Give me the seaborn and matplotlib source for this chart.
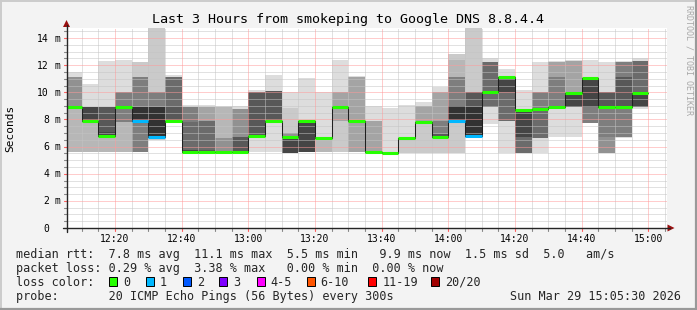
import numpy as np
import matplotlib
matplotlib.use("Agg")
import matplotlib.pyplot as plt
from matplotlib.patches import Rectangle, Polygon
import seaborn as sns

# ---------------- data ----------------
step_end = ["12:10", "12:15", "12:20", "12:25", "12:30", "12:35", "12:40", "12:45",
            "12:50", "12:55", "13:00", "13:05", "13:10", "13:15", "13:20", "13:25",
            "13:30", "13:35", "13:40", "13:45", "13:50", "13:55", "14:00", "14:05",
            "14:10", "14:15", "14:20", "14:25", "14:30", "14:35", "14:40", "14:45",
            "14:50", "14:55", "15:00"]

# received ping RTTs per 5-minute step (ms): (value, count)
ping_rtts = [
    [(5.6, 3), (8.9, 12), (11.1, 4), (11.5, 1)],
    [(5.6, 3), (7.9, 8), (8.9, 8), (10.6, 1)],
    [(5.6, 3), (6.8, 8), (7.1, 1), (8.9, 7), (12.3, 1)],
    [(5.6, 3), (7.8, 3), (8.9, 8), (10.0, 5), (12.4, 1)],
    [(5.6, 6), (7.9, 4), (8.9, 4), (11.1, 4), (12.2, 1)],
    [(6.5, 2), (6.7, 8), (8.9, 4), (10.0, 4), (14.8, 1)],
    [(7.9, 12), (8.9, 1), (11.1, 6), (11.3, 1)],
    [(5.6, 11), (5.75, 2), (7.8, 1), (8.9, 5), (9.1, 1)],
    [(5.6, 12), (5.75, 1), (7.85, 3), (8.9, 3), (9.1, 1)],
    [(5.6, 14), (5.7, 1), (6.65, 2), (8.9, 2), (9.0, 1)],
    [(5.6, 12), (6.7, 3), (8.75, 4), (9.0, 1)],
    [(5.6, 1), (6.8, 11), (10.0, 7), (10.2, 1)],
    [(5.6, 1), (7.9, 11), (10.1, 7), (11.25, 1)],
    [(5.5, 1), (5.55, 8), (6.7, 6), (7.0, 3), (8.85, 1), (10.0, 1)],
    [(5.6, 9), (7.85, 10), (11.05, 1)],
    [(5.6, 3), (6.65, 16), (10.0, 1)],
    [(5.6, 2), (7.85, 2), (8.9, 12), (10.0, 3), (12.35, 1)],
    [(5.6, 4), (7.85, 12), (11.1, 3), (11.2, 1)],
    [(5.6, 16), (7.85, 3), (9.0, 1)],
    [(5.55, 19), (8.85, 1)],
    [(5.55, 2), (6.65, 17), (9.1, 1)],
    [(5.55, 2), (7.8, 14), (9.0, 3), (9.3, 1)],
    [(5.55, 2), (6.7, 10), (6.9, 2), (7.85, 2), (10.0, 3), (10.4, 1)],
    [(5.55, 2), (7.9, 8), (9.0, 4), (11.1, 3), (12.35, 1), (12.85, 1)],
    [(6.6, 2), (6.75, 8), (8.9, 2), (10.0, 6), (14.75, 1)],
    [(7.7, 1), (8.9, 6), (10.0, 6), (12.2, 6), (12.5, 1)],
    [(5.55, 1), (7.85, 6), (10.0, 2), (11.1, 10), (11.7, 1)],
    [(5.5, 1), (5.55, 6), (6.7, 2), (8.7, 10), (10.15, 1)],
    [(5.55, 1), (6.65, 6), (8.75, 7), (10.0, 5), (12.2, 1)],
    [(6.7, 1), (8.9, 13), (11.1, 2), (12.2, 3), (12.3, 1)],
    [(6.7, 1), (8.9, 8), (9.95, 7), (12.3, 3), (12.4, 1)],
    [(7.75, 6), (8.9, 3), (11.05, 10), (12.4, 1)],
    [(5.5, 1), (5.55, 4), (6.7, 1), (8.9, 6), (10.0, 7), (12.2, 1)],
    [(6.6, 1), (6.7, 5), (8.95, 6), (11.1, 2), (12.2, 5), (12.3, 1)],
    [(8.8, 1), (8.9, 8), (9.95, 4), (12.3, 6), (12.5, 1)],
]
lost_pings = [0, 0, 0, 0, 1, 1, 0, 0, 0, 0, 0, 0, 0, 0, 0, 0, 0, 0,
              0, 0, 0, 0, 0, 1, 1, 0, 0, 0, 0, 0, 0, 0, 0, 0, 0]
pings_per_step = 20

loss_labels = ["0", "1", "2", "3", "4-5", "6-10", "11-19", "20/20"]
loss_colors = ["#26ff00", "#00b8ff", "#0059ff", "#7e00ff", "#ff00ff",
               "#ff5500", "#ff0000", "#a10000"]
loss_from = [0, 1, 2, 3, 4, 6, 11, 20]

y_ticks = [0, 2, 4, 6, 8, 10, 12, 14]
y_tick_labels = ["0", "2 m", "4 m", "6 m", "8 m", "10 m", "12 m", "14 m"]
x_tick_labels = ["12:20", "12:40", "13:00", "13:20", "13:40", "14:00",
                 "14:20", "14:40", "15:00"]

title = "Last 3 Hours from smokeping to Google DNS 8.8.4.4"
y_label = "Seconds"
legend_rtt = "median rtt:  7.8 ms avg  11.1 ms max  5.5 ms min   9.9 ms now  1.5 ms sd  5.0   am/s"
legend_loss = "packet loss: 0.29 % avg  3.38 % max   0.00 % min  0.00 % now"
legend_color = "loss color:"
probe_text = "probe:       20 ICMP Echo Pings (56 Bytes) every 300s"
stamp = "Sun Mar 29 15:05:30 2026"
side_text = "RRDTOOL / TOBI OETIKER"


def minutes(t):
    h, m = map(int, t.split(":"))
    return (h - 12) * 60 + m


ends = np.array([minutes(t) for t in step_end], float)
starts = ends - 5.0

sns.set_theme(style="white")
plt.rcParams["font.family"] = ["DejaVu Sans Mono", "DejaVu Sans"]

W, H = 697, 310
L, R, T, B = 66.5, 666.5, 28.0, 228.0
X0, X1 = 5.5, 185.5
YMAX = (B - T) / 13.57

fig = plt.figure(figsize=(W / 100, H / 100), dpi=100, facecolor="#f3f3f3")
ax = fig.add_axes([L / W, 1 - B / H, (R - L) / W, (B - T) / H])
ax.set_facecolor("white")
ax.set_xlim(X0, X1)
ax.set_ylim(0, YMAX)
for s in ax.spines.values():
    s.set_visible(False)
ax.set_xticks([])
ax.set_yticks([])

# ---- smoke ----
half = pings_per_step // 2
medians = []
for i, step in enumerate(ping_rtts):
    vals = sorted(v for v, c in step for _ in range(c))
    medians.append(float(np.median(vals)))
    lost = lost_pings[i]
    pad = lost // 2
    p = [np.nan] * pad + vals + [np.nan] * (lost - pad)
    for k in range(1, half + 1):
        lo, hi = p[k - 1], p[pings_per_step - k]
        if np.isnan(lo) or np.isnan(hi) or hi <= lo:
            continue
        g = int(190 / half * (half - k)) + 50
        ax.bar(starts[i], hi - lo, width=5.0, bottom=lo, align="edge",
               color=f"#{g:02x}{g:02x}{g:02x}", edgecolor="none", linewidth=0,
               antialiased=False, zorder=1)
medians = np.array(medians)

# ---- grid (drawn over the smoke, like rrdtool) ----
dots = (0, (1, 1))
for v in np.arange(0.5, YMAX, 0.5):
    if abs(v % 2) > 1e-9:
        ax.axhline(v, color="#c4c4c4", lw=0.72, ls=dots, zorder=2)
for m in np.arange(10, 186, 5):
    if m % 20:
        ax.axvline(m, color="#c4c4c4", lw=0.72, ls=dots, zorder=2)
for v in range(2, 15, 2):
    ax.axhline(v, color="#ff9a9a", lw=0.72, ls=dots, zorder=2.1)
for m in range(20, 181, 20):
    ax.axvline(m, color="#ff9a9a", lw=0.72, ls=dots, zorder=2.1)

# ---- median ----
sns.lineplot(x=np.append(starts, ends[-1]), y=np.append(medians, medians[-1]),
             drawstyle="steps-post", color="#202020", linewidth=0.75,
             estimator=None, ax=ax, zorder=3)


def loss_color(n):
    c = loss_colors[0]
    for f, col in zip(loss_from, loss_colors):
        if n >= f:
            c = col
    return c


ax.hlines(medians, starts, ends, colors=[loss_color(n) for n in lost_pings],
          linewidth=2.2, zorder=4, capstyle="butt")

# ---- overlay in pixel coordinates for the rrdtool furniture ----
ov = fig.add_axes([0, 0, 1, 1], zorder=10)
ov.set_xlim(0, W)
ov.set_ylim(H, 0)
ov.axis("off")


def xp(m):
    return L + (m - X0) * (R - L) / (X1 - X0)


def yp(v):
    return B - v * (B - T) / YMAX


# frame shading
ov.plot([0, W], [0.6, 0.6], color="#cbcbcb", lw=1.4)
ov.plot([0.6, 0.6], [0, H], color="#cbcbcb", lw=1.4)
ov.plot([0, W], [H - 1.0, H - 1.0], color="#999999", lw=1.6)
ov.plot([W - 1.0, W - 1.0], [0, H], color="#999999", lw=1.6)

# ticks
for m in np.arange(10, 186, 5):
    col = "#ff6060" if m % 20 == 0 else "#888888"
    ov.plot([xp(m), xp(m)], [B, B + 2.5], color=col, lw=0.8)
for v in np.arange(0.5, YMAX, 0.5):
    col = "#ff6060" if abs(v % 2) < 1e-9 else "#888888"
    ov.plot([L - 2.5, L], [yp(v), yp(v)], color=col, lw=0.8)

# axes with arrows
axis_col = "#262626"
arrow_col = "#9a1010"
ov.plot([L - 3.5, 669.5], [B, B], color=axis_col, lw=1.0)
ov.plot([L, L], [B + 3.5, 24.5], color=axis_col, lw=1.0)
ov.add_patch(Polygon([(667.5, 224.5), (667.5, 231.5), (674.5, 228.0)],
                     closed=True, color=arrow_col, lw=0))
ov.add_patch(Polygon([(63.0, 27.0), (70.0, 27.0), (66.5, 20.0)],
                     closed=True, color=arrow_col, lw=0))

# texts
ov.text(348, 23.2, title, ha="center", va="baseline", fontsize=9.6, color="black")
ov.text(10.5, 128, y_label, rotation=90, ha="center", va="center",
        fontsize=8, color="black")
ov.text(688.5, 60, side_text, rotation=270, ha="center", va="center",
        fontsize=6, color="#a8a8a8")

for v, lab in zip(y_ticks, y_tick_labels):
    parts = lab.split(" ")
    ov.text(49.0, yp(v) + 3.6, parts[0], ha="right", va="baseline",
            fontsize=7, color="black")
    if len(parts) > 1:
        ov.text(54.2, yp(v) + 3.6, parts[1], ha="left", va="baseline",
                fontsize=7, color="black")
for lab in x_tick_labels:
    ov.text(xp(minutes(lab)), 241.6, lab, ha="center", va="baseline",
            fontsize=7, color="black")

fs = 8.45
ov.text(16, 258.3, legend_rtt, ha="left", va="baseline", fontsize=fs)
ov.text(16, 272.0, legend_loss, ha="left", va="baseline", fontsize=fs)
ov.text(16, 285.8, legend_color, ha="left", va="baseline", fontsize=fs)
box_x = [109.0, 145.7, 182.7, 219.3, 256.7, 306.7, 368.3, 430.7]
for bx, lab, col in zip(box_x, loss_labels, loss_colors):
    ov.add_patch(Rectangle((bx, 277.0), 8.0, 8.8, facecolor=col,
                           edgecolor="black", lw=0.7))
    ov.text(bx + 14.0, 285.8, lab, ha="left", va="baseline", fontsize=fs)
ov.text(16, 299.7, probe_text, ha="left", va="baseline", fontsize=fs)
ov.text(680.5, 299.7, stamp, ha="right", va="baseline", fontsize=fs)

fig.savefig("out.png", dpi=100, facecolor=fig.get_facecolor())
